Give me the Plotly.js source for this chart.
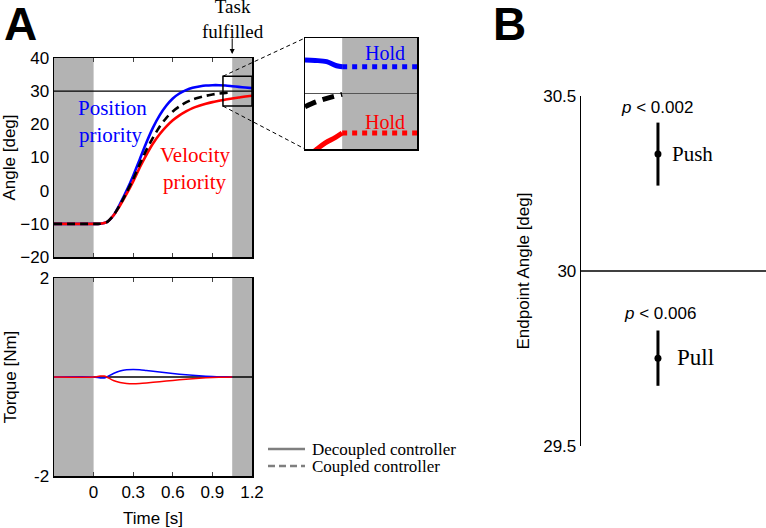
<!DOCTYPE html>
<html><head><meta charset="utf-8">
<script src="https://cdn.plot.ly/plotly-3.0.1.min.js"></script>
<style>html,body{margin:0;padding:0;background:#fff}</style>
</head><body><div id="chart" style="width:766px;height:528px"></div>
<script>
// ---------- data ----------
const time = [-0.3,-0.2,-0.1,0,0.05,0.1,0.15,0.2,0.25,0.3,0.35,0.4,0.45,0.5,0.55,0.6,0.65,0.7,0.75,0.8,0.85,0.9,0.95,1.0,1.05,1.1,1.15,1.2];
const anglePosition = [-10,-10,-10,-10,-10,-9.5,-7.5,-4,0,4.5,9.5,14.5,19,22.7,25.6,27.8,29.3,30.3,31,31.4,31.7,31.8,31.8,31.7,31.5,31.3,31.1,30.9];
const angleVelocity = [-10,-10,-10,-10,-10,-9.5,-7.5,-4.5,-1,2.8,7,10.8,14.2,17,19.3,21.2,22.7,23.9,24.9,25.6,26.2,26.7,27.1,27.5,27.8,28.1,28.4,28.6];
const timeCoupled = [-0.3,-0.2,-0.1,0,0.05,0.1,0.15,0.2,0.25,0.3,0.35,0.4,0.45,0.5,0.55,0.6,0.65,0.7,0.75,0.8,0.85,0.9,0.95,1.0,1.05];
const angleCoupled = [-10,-10,-10,-10,-10,-9.5,-7.5,-4.3,-0.5,3.5,8,12.3,16,19.3,21.9,23.9,25.4,26.6,27.5,28.1,28.6,29,29.3,29.5,29.6];
const targetAngle = 30;
const taskTime = 1.05;

const torqueTime = [-0.3,0,0.05,0.08,0.1,0.15,0.2,0.25,0.3,0.35,0.4,0.5,0.6,0.7,0.8,0.9,1.0,1.05];
const torquePosition = [0,0,-0.02,-0.02,0,0.07,0.12,0.145,0.15,0.145,0.13,0.1,0.07,0.045,0.025,0.01,0.003,0];
const torqueVelocity = [0,0,0.02,0.02,0,-0.07,-0.11,-0.13,-0.135,-0.13,-0.12,-0.095,-0.07,-0.045,-0.025,-0.01,-0.003,0];
const torqueBaseTime = [0,1.2];
const torqueBase = [0,0];

// inset (magnified end of movement)
const insetRange = {t:[0.98,1.2], a:[25.5,34.5]};
const insetTimeBlue = [0.98,1.0,1.0226,1.042,1.053];
const insetBlue = [32.72,32.68,32.58,32.25,32.17];
const insetTimeBlack = [0.98,1.0,1.016,1.035,1.053];
const insetBlack = [28.93,29.3,29.53,29.75,29.93];
const insetTimeRed = [0.995,1.0036,1.02,1.04,1.053];
const insetRed = [25.2,25.5,26.0,26.45,26.8];
const holdTime = [1.053,1.2];
const holdBlue = [32.17,32.17];
const holdRed = [26.8,26.8];

// panel B
const conditions = ['Push','Pull'];
const endpointMean = [30.334,29.751];
const endpointErr = [0.09,0.079];
const pValues = ['0.002','0.006'];
const angleTicks = [29.5,30,30.5];
const angleTickText = ['29.5','30','30.5'];
const legendNames = ['Decoupled controller','Coupled controller'];

// ---------- layout helpers ----------
const W=766,H=528;
const px = p => p/W, py = p => 1-p/H;
const xA=[px(54),px(252)], yA=[py(257),py(58)], yT=[py(476),py(278)];
const xI=[px(305),px(417)], yI=[py(149),py(38)];
const xB=[px(581),1], yB=[py(446),py(96)];
const sans='Liberation Sans, Arial, sans-serif';
const serif='Liberation Serif, Times New Roman, serif';
const BLUE='#0000ff', RED='#ff0000', GRAY='#b3b3b3', LGRAY='#7f7f7f';
const tRange=[-0.3,1.2], aRange=[-20,40];
const toPX = t => xA[0]+(t-tRange[0])/(tRange[1]-tRange[0])*(xA[1]-xA[0]);
const toPY = a => yA[0]+(a-aRange[0])/(aRange[1]-aRange[0])*(yA[1]-yA[0]);

const traces = [
  {x:[tRange[0],tRange[1]], y:[targetAngle,targetAngle], xaxis:'x', yaxis:'y', mode:'lines', line:{color:'#000',width:1.3}},
  {x:time, y:anglePosition, xaxis:'x', yaxis:'y', mode:'lines', line:{color:BLUE,width:2.6,shape:'spline',smoothing:0.6}},
  {x:time, y:angleVelocity, xaxis:'x', yaxis:'y', mode:'lines', line:{color:RED,width:2.6,shape:'spline',smoothing:0.6}},
  {x:timeCoupled, y:angleCoupled, xaxis:'x', yaxis:'y', mode:'lines', line:{color:'#000',width:2.6,dash:'8px,5px',shape:'spline',smoothing:0.6}},
  {x:torqueBaseTime, y:torqueBase, xaxis:'x2', yaxis:'y2', mode:'lines', line:{color:'#000',width:1.4}},
  {x:torqueTime, y:torquePosition, xaxis:'x2', yaxis:'y2', mode:'lines', line:{color:BLUE,width:1.5,shape:'spline',smoothing:0.6}},
  {x:torqueTime, y:torqueVelocity, xaxis:'x2', yaxis:'y2', mode:'lines', line:{color:RED,width:1.5,shape:'spline',smoothing:0.6}},
  {x:insetRange.t, y:[targetAngle,targetAngle], xaxis:'x3', yaxis:'y3', mode:'lines', line:{color:'#555',width:1}},
  {x:insetTimeBlue, y:insetBlue, xaxis:'x3', yaxis:'y3', mode:'lines', line:{color:BLUE,width:5,shape:'spline'}},
  {x:holdTime, y:holdBlue, xaxis:'x3', yaxis:'y3', mode:'lines', line:{color:BLUE,width:5,dash:'dot'}},
  {x:insetTimeBlack, y:insetBlack, xaxis:'x3', yaxis:'y3', mode:'lines', line:{color:'#000',width:5,dash:'12px,7px',shape:'spline'}},
  {x:insetTimeRed, y:insetRed, xaxis:'x3', yaxis:'y3', mode:'lines', line:{color:RED,width:5,shape:'spline'}},
  {x:holdTime, y:holdRed, xaxis:'x3', yaxis:'y3', mode:'lines', line:{color:RED,width:5,dash:'dot'}},
  {x:[0,1], y:[30,30], xaxis:'x4', yaxis:'y4', mode:'lines', line:{color:'#000',width:1.3}},
  {x:conditions.map(()=>0.416), y:endpointMean, xaxis:'x4', yaxis:'y4', mode:'markers', marker:{color:'#000',size:7},
   error_y:{type:'data',array:endpointErr,visible:true,thickness:3,width:0,color:'#000'}}
];

const shade = (xref,yref,x0,x1) => ({type:'rect', xref:xref, yref:yref+' domain', x0:x0, x1:x1, y0:0, y1:1, fillcolor:GRAY, line:{width:0}, layer:'below'});

const shapes = [
  shade('x','y',-0.3,0), shade('x','y',taskTime,1.2),
  shade('x2','y2',-0.3,0), shade('x2','y2',taskTime,1.2),
  shade('x3','y3',1.053,1.2),
  {type:'rect', xref:'x', yref:'y', x0:insetRange.t[0], x1:insetRange.t[1], y0:insetRange.a[0], y1:insetRange.a[1], line:{color:'#000',width:1.5}},
  {type:'line', xref:'paper', yref:'paper', x0:toPX(insetRange.t[0]), y0:toPY(insetRange.a[1]), x1:xI[0], y1:yI[1], line:{color:'#000',width:1,dash:'4px,3px'}},
  {type:'line', xref:'paper', yref:'paper', x0:toPX(insetRange.t[0]), y0:toPY(insetRange.a[0]), x1:xI[0], y1:yI[0], line:{color:'#000',width:1,dash:'4px,3px'}},
  // legend keys
  {type:'line', xref:'paper', yref:'paper', x0:px(268), x1:px(305), y0:py(449), y1:py(449), line:{color:LGRAY,width:2.5}},
  {type:'line', xref:'paper', yref:'paper', x0:px(268), x1:px(305), y0:py(466), y1:py(466), line:{color:LGRAY,width:2.5,dash:'7px,4px'}}
];

const ann = (x,y,text,size,color,family,extra) => Object.assign({xref:'paper', yref:'paper', x:px(x), y:py(y), text:text, showarrow:false, xanchor:'center', yanchor:'middle', borderpad:0, font:{family:family, size:size, color:color}}, extra||{});

const annotations = [
  ann(20,24,'<b>A</b>',46,'#000',sans),
  ann(509,24,'<b>B</b>',46,'#000',sans),
  ann(112,108,'Position',21,BLUE,serif),
  ann(110,135,'priority',21,BLUE,serif),
  ann(195,155,'Velocity',21,RED,serif),
  ann(194,182,'priority',21,RED,serif),
  ann(233,19,'Task<br>fulfilled',19,'#000',serif),
  {xref:'x', yref:'y', x:taskTime, y:40, ax:0, ay:-21, text:'', showarrow:true, arrowhead:2, arrowsize:1, arrowwidth:1, standoff:4, arrowcolor:'#000'},
  ann(385,53,'Hold',20,BLUE,serif),
  ann(385,122,'Hold',20,RED,serif),
  ann(657,107,'<i>p</i> &lt; '+pValues[0],17,'#000',sans),
  ann(660,313,'<i>p</i> &lt; '+pValues[1],17,'#000',sans),
  ann(692,154,conditions[0],21,'#000',serif),
  ann(695,357,conditions[1],23,'#000',serif),
  ann(311,449,legendNames[0],17,'#000',serif,{xanchor:'left'}),
  ann(311,466,legendNames[1],17,'#000',serif,{xanchor:'left'})
];

const axLine = {showline:true, linecolor:'#000', linewidth:1.5, mirror:true, showgrid:false, zeroline:false};
const layout = {
  width:W, height:H, margin:{l:0,r:0,t:0,b:0}, paper_bgcolor:'#fff', plot_bgcolor:'#fff',
  font:{family:sans, size:17, color:'#000'},
  showlegend:false,
  xaxis:Object.assign({}, axLine, {domain:xA, anchor:'y', range:tRange, tickvals:[0,0.3,0.6,0.9], ticks:'inside', ticklen:4, mirror:'ticks', showticklabels:false}),
  yaxis:Object.assign({}, axLine, {domain:yA, anchor:'x', range:aRange, dtick:10, ticks:'', title:{text:'Angle [deg]', font:{size:17}, standoff:3}}),
  xaxis2:Object.assign({}, axLine, {domain:xA, anchor:'y2', range:tRange, tickvals:[0,0.3,0.6,0.9,1.2], ticktext:['0','0.3','0.6','0.9','1.2'], ticks:'inside', ticklen:4, mirror:'ticks', title:{text:'Time [s]', font:{size:17}, standoff:12}}),
  yaxis2:Object.assign({}, axLine, {domain:yT, anchor:'x2', range:[-2,2], tickvals:[-2,2], ticktext:['-2','2'], ticks:'', title:{text:'Torque [Nm]', font:{size:17}, standoff:13}}),
  xaxis3:Object.assign({}, axLine, {domain:xI, anchor:'y3', range:insetRange.t, showticklabels:false, ticks:''}),
  yaxis3:Object.assign({}, axLine, {domain:yI, anchor:'x3', range:insetRange.a, showticklabels:false, ticks:''}),
  xaxis4:{domain:xB, anchor:'y4', range:[0,1], visible:false},
  yaxis4:{domain:yB, anchor:'x4', range:[29.5,30.5], showline:true, linecolor:'#000', linewidth:1.3, showgrid:false, zeroline:false, ticks:'', tickvals:angleTicks, ticktext:angleTickText, title:{text:'Endpoint Angle [deg]', font:{size:17}, standoff:9}},
  shapes:shapes, annotations:annotations
};
Plotly.newPlot('chart', traces, layout, {staticPlot:true});
</script></body></html>
